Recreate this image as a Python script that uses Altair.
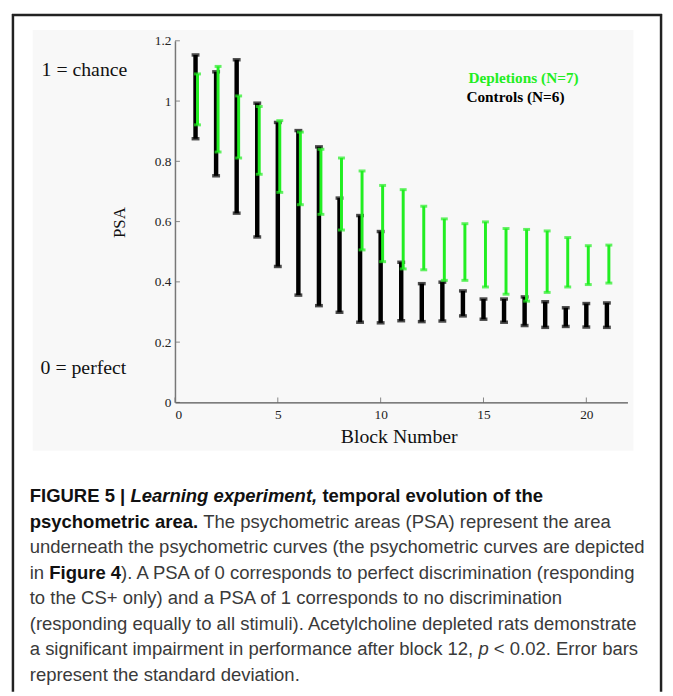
import altair as alt
import pandas as pd

# ---------------- data ----------------
blocks = list(range(1, 22))
ctrl_hi = [1.153, 1.097, 1.137, 0.993, 0.929, 0.902, 0.848, 0.678, 0.620, 0.567, 0.465,
           0.394, 0.399, 0.370, 0.343, 0.343, 0.350, 0.334, 0.314, 0.328, 0.330]
ctrl_lo = [0.875, 0.752, 0.628, 0.549, 0.451, 0.356, 0.321, 0.299, 0.266, 0.264, 0.271,
           0.268, 0.270, 0.287, 0.276, 0.266, 0.255, 0.249, 0.252, 0.250, 0.249]
dep_hi = [1.090, 1.115, 1.017, 0.982, 0.935, 0.897, 0.840, 0.811, 0.768, 0.720, 0.706,
          0.651, 0.609, 0.593, 0.599, 0.577, 0.574, 0.569, 0.547, 0.520, 0.522]
dep_lo = [0.921, 0.831, 0.811, 0.757, 0.697, 0.656, 0.624, 0.572, 0.506, 0.467, 0.443,
          0.440, 0.405, 0.405, 0.383, 0.359, 0.336, 0.365, 0.383, 0.391, 0.396]
groups = ["Controls", "Depletions"]
legend_labels = ["Depletions (N=7)", "Controls (N=6)"]

x_ticks = [0, 5, 10, 15, 20]
y_ticks = [0, 0.2, 0.4, 0.6, 0.8, 1.0, 1.2]
x_title = "Block Number"
y_title = "PSA"
top_note = "1 = chance"
bottom_note = "0 = perfect"

caption_lines = [
    [("b", "FIGURE 5 |"), ("bi", " Learning experiment,"), ("b", " temporal evolution of the")],
    [("b", "psychometric area."), ("r", " The psychometric areas (PSA) represent the area")],
    [("r", "underneath the psychometric curves (the psychometric curves are depicted")],
    [("r", "in"), ("b", " Figure 4"), ("r", "). A PSA of 0 corresponds to perfect discrimination (responding")],
    [("r", "to the CS+ only) and a PSA of 1 corresponds to no discrimination")],
    [("r", "(responding equally to all stimuli). Acetylcholine depleted rats demonstrate")],
    [("r", "a significant impairment in performance after block 12,"), ("i", " p"), ("r", " < 0.02. Error bars")],
    [("r", "represent the standard deviation.")],
]

# ---------------- helpers ----------------
GREEN = "#22ee22"
SERIF = "Liberation Serif"
SANS = "Liberation Sans"
CAP_FS = 18.7

REG = {' ': 278, 'a': 556, 'b': 556, 'c': 500, 'd': 556, 'e': 556, 'f': 278, 'g': 556, 'h': 556,
       'i': 222, 'j': 222, 'k': 500, 'l': 222, 'm': 833, 'n': 556, 'o': 556, 'p': 556, 'q': 556,
       'r': 333, 's': 500, 't': 278, 'u': 556, 'v': 500, 'w': 722, 'x': 500, 'y': 500, 'z': 500,
       ',': 278, '.': 278, '(': 333, ')': 333, '|': 260}
BOLD = {' ': 278, 'a': 556, 'b': 611, 'c': 556, 'd': 611, 'e': 556, 'f': 333, 'g': 611, 'h': 611,
        'i': 278, 'j': 278, 'k': 556, 'l': 278, 'm': 889, 'n': 611, 'o': 611, 'p': 611, 'q': 611,
        'r': 389, 's': 556, 't': 333, 'u': 611, 'v': 556, 'w': 778, 'x': 556, 'y': 556, 'z': 500,
        ',': 278, '.': 278, '|': 280, 'F': 611, 'I': 278, 'G': 778, 'U': 722, 'R': 722, 'E': 667,
        'L': 611}


def text_width(s, style):
    table = BOLD if "b" in style else REG
    return sum(table.get(c, 556) for c in s) * CAP_FS / 1000.0


W, H = 458, 366
PAD_L, PAD_T, PAD_R, PAD_B = 169, 29, 38, 293
BOTTOM = H + PAD_B  # bottom of the svg, relative to the plot origin

xs = alt.Scale(domain=[0, 22], nice=False, zero=False)
ys = alt.Scale(domain=[0, 1.2], nice=False)
xaxis = alt.Axis(values=x_ticks, format="d", tickSize=0, labelPadding=5, title=None,
                 labelFont=SERIF, labelFontSize=13.5, labelColor="#222", grid=False,
                 domainColor="#555", domainWidth=1.5, zindex=1)
yaxis = alt.Axis(values=y_ticks, format="~g", tickSize=0, labelPadding=4, title=None,
                 labelFont=SERIF, labelFontSize=13.5, labelColor="#222", grid=False,
                 domainColor="#777", domainWidth=1.5, zindex=1)

dummy = alt.Chart(pd.DataFrame({"_": [0]}))

# background panel and frame
panel = dummy.mark_rect(color="#f8f8f8").encode(
    x=alt.value(-144), x2=alt.value(464), y=alt.value(-11), y2=alt.value(415))
frame_l = dummy.mark_rule(color="#222", strokeWidth=2.5).encode(
    x=alt.value(-164), y=alt.value(-27), y2=alt.value(BOTTOM))
frame_r = dummy.mark_rule(color="#222", strokeWidth=2.5).encode(
    x=alt.value(492), y=alt.value(-27), y2=alt.value(BOTTOM))
frame_t = dummy.mark_rule(color="#222", strokeWidth=2.5).encode(
    x=alt.value(-165), x2=alt.value(493), y=alt.value(-26))

# error bars
df = pd.DataFrame({
    "block": blocks * 2,
    "lo": ctrl_lo + dep_lo,
    "hi": ctrl_hi + dep_hi,
    "group": [groups[0]] * len(blocks) + [groups[1]] * len(blocks),
})
base = alt.Chart(df)
X = alt.X("block:Q", scale=xs, axis=xaxis)


def bars(group, color, width, cap, thick, off):
    b = base.transform_filter(alt.datum.group == group)
    r = b.mark_rule(color=color, strokeWidth=width, xOffset=off).encode(
        x=X, y=alt.Y("lo:Q", scale=ys, axis=yaxis), y2="hi:Q")
    c1 = b.mark_tick(color=color, orient="horizontal", size=cap, thickness=thick, xOffset=off).encode(
        x=X, y=alt.Y("lo:Q", scale=ys, axis=yaxis))
    c2 = b.mark_tick(color=color, orient="horizontal", size=cap, thickness=thick, xOffset=off).encode(
        x=X, y=alt.Y("hi:Q", scale=ys, axis=yaxis))
    return [r, c1, c2]


ctrl_layers = bars(groups[0], "#000000", 4.5, 8, 3.5, 0)
dep_layers = bars(groups[1], GREEN, 3, 7, 3, 2)

# inward ticks
yt = alt.Chart(pd.DataFrame({"v": y_ticks})).mark_tick(
    orient="horizontal", size=5, thickness=1, color="#555").encode(
    y=alt.Y("v:Q", scale=ys, axis=yaxis), x=alt.value(2.5))
xt = alt.Chart(pd.DataFrame({"v": x_ticks})).mark_tick(
    orient="vertical", size=5, thickness=1, color="#555").encode(
    x=alt.X("v:Q", scale=xs, axis=xaxis), y=alt.value(H - 2.5))


# chart texts
def label(txt, x, y, size, font=SERIF, color="#111", weight="normal", angle=0, align="left"):
    m = dummy.mark_text(font=font, fontSize=size, color=color, fontWeight=weight,
                        align=align, baseline="middle", angle=angle)
    return m.encode(x=alt.value(x), y=alt.value(y), text=alt.value(txt))


texts = [
    label(top_note, -135, 30, 20),
    label(bottom_note, -136, 331, 20),
    label(y_title, -56, 184, 17, angle=270, align="center"),
    label(x_title, 227, 401, 20, align="center"),
    label(legend_labels[0], 297, 38, 15.5, color=GREEN, weight="bold"),
    label(legend_labels[1], 295, 57, 15.5, color="#000", weight="bold"),
]

# caption
CAP_X0 = 30 - 177
CAP_Y0 = 504 - 37
CAP_DY = 25.85
caps = []
for i, line in enumerate(caption_lines):
    cx = CAP_X0
    for style, txt in line:
        stripped = txt.lstrip(" ")
        cx += text_width(txt[: len(txt) - len(stripped)], style)
        m = dummy.mark_text(
            font=SANS, fontSize=CAP_FS, align="left", baseline="alphabetic",
            fontWeight="bold" if "b" in style else "normal",
            fontStyle="italic" if "i" in style else "normal",
            color="#111" if "b" in style else "#3a3a3a")
        caps.append(m.encode(x=alt.value(cx), y=alt.value(CAP_Y0 + CAP_DY * i),
                             text=alt.value(stripped)))
        cx += text_width(stripped, style)

chart = alt.layer(
    panel, frame_l, frame_r, frame_t,
    *ctrl_layers, *dep_layers, yt, xt, *texts, *caps
).properties(
    width=W, height=H,
    padding={"left": PAD_L, "top": PAD_T, "right": PAD_R, "bottom": PAD_B},
    autosize="none",
).configure_view(stroke=None).configure(background="white")

chart.save("out.html", embed_options={"renderer": "svg", "actions": False})
